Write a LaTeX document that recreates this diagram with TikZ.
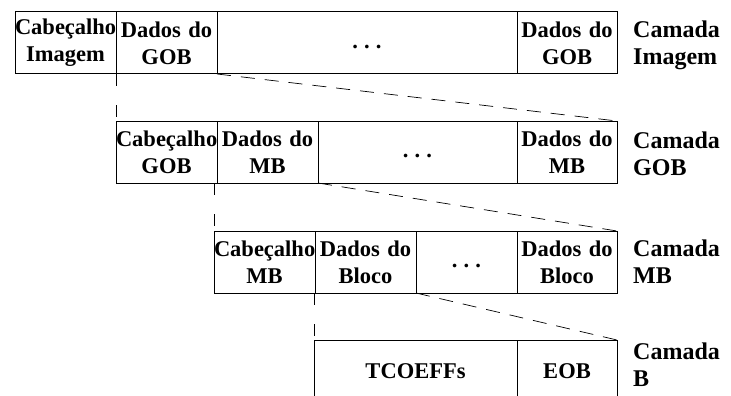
\documentclass[tikz,border=0pt]{standalone}
\usepackage{fontspec}
\setmainfont{Liberation Serif}
\usetikzlibrary{positioning}

\begin{document}
\begin{tikzpicture}[x=1pt,y=-1pt,
  cell/.style={draw,line width=1pt,text width=#1,minimum height=62pt,inner sep=0pt,outer sep=0pt,
    align=center,font=\bfseries\fontsize{22.5}{27}\selectfont},
  layer/.style={align=left,inner sep=0pt,font=\bfseries\fontsize{24}{27}\selectfont},
  link/.style={line width=0.7pt,dash pattern=on 14pt off 10pt},
  drop/.style={line width=0.7pt,dash pattern=on 12pt off 19pt},
  ]
\useasboundingbox (0,0) rectangle (731,396);
\clip (0,0) rectangle (731,396);
% camada imagem
\node[cell=101pt,anchor=north west] (img1) at (15,12) {Cabeçalho\\Imagem};
\node[cell=101pt,right=0pt of img1] (img2) {Dados do\\GOB};
\node[cell=300pt,right=0pt of img2] (img3) {\strut.\kern0.27em.\kern0.27em.};
\node[cell=100pt,right=0pt of img3] (img4) {Dados do\\GOB};
\node[layer,right=16pt of img4,yshift=-2pt] (limg) {Camada\\Imagem};
% camada GOB
\node[cell=101pt,anchor=north west] (gob1) at (116,121) {Cabeçalho\\GOB};
\node[cell=101pt,right=0pt of gob1] (gob2) {Dados do\\MB};
\node[cell=199pt,right=0pt of gob2] (gob3) {\strut.\kern0.27em.\kern0.27em.};
\node[cell=100pt,right=0pt of gob3] (gob4) {Dados do\\MB};
\node[layer,right=16pt of gob4,yshift=-2pt] (lgob) {Camada\\GOB};
% camada MB
\node[cell=101pt,anchor=north west] (mb1) at (214,231) {Cabeçalho\\MB};
\node[cell=101pt,right=0pt of mb1] (mb2) {Dados do\\Bloco};
\node[cell=101pt,right=0pt of mb2] (mb3) {\strut.\kern0.27em.\kern0.27em.};
\node[cell=100pt,right=0pt of mb3] (mb4) {Dados do\\Bloco};
\node[layer,right=16pt of mb4] (lmb) {Camada\\MB};
% camada B
\node[cell=203pt,anchor=north west] (b1) at (314,340) {TCOEFFs};
\node[cell=100pt,right=0pt of b1] (b2) {EOB};
\node[layer,right=16pt of b2,yshift=6pt] (lb) {Camada\\B};

\draw[drop] (gob1.north west |- img1.south) -- (gob1.north west);
\draw[link] (img2.south east) -- (gob4.north east);
\draw[drop] (mb1.north west |- gob1.south) -- (mb1.north west);
\draw[link] (gob2.south east) -- (mb4.north east);
\draw[drop] (b1.north west |- mb1.south) -- (b1.north west);
\draw[link] (mb2.south east) -- (b2.north east);
\end{tikzpicture}
\end{document}
